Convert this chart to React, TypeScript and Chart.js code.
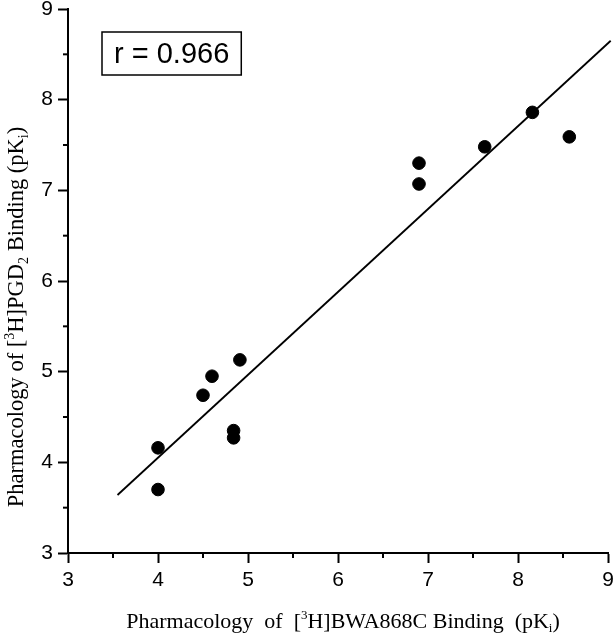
import { useEffect, useRef } from "react";
import { Chart, registerables } from "chart.js";

Chart.register(...registerables);

// ---- data ----
const bindingBWA868C = [4.0, 4.0, 4.5, 4.6, 4.84, 4.84, 4.91, 6.9, 6.9, 7.63, 8.16, 8.57];
const bindingPGD2 = [4.16, 3.7, 4.74, 4.95, 4.35, 4.27, 5.13, 7.3, 7.07, 7.48, 7.86, 7.59];
const fitLineX = [3.55, 9.03];
const fitLineY = [3.64, 8.65];
const axisMin = 3;
const axisMax = 9;
const minorTicks = [3.5, 4.5, 5.5, 6.5, 7.5, 8.5];
const correlationLabel = "r = 0.966";

type Seg = { t: string; mode?: "sup" | "sub" };
const xTitleParts: Seg[] = [
  { t: "Pharmacology  of  [" },
  { t: "3", mode: "sup" },
  { t: "H]BWA868C Binding  (pK" },
  { t: "i", mode: "sub" },
  { t: ")" },
];
const yTitleParts: Seg[] = [
  { t: "Pharmacology of [" },
  { t: "3", mode: "sup" },
  { t: "H]PGD" },
  { t: "2", mode: "sub" },
  { t: " Binding (pK" },
  { t: "i", mode: "sub" },
  { t: ")" },
];

const SERIF = '"Liberation Serif", "Times New Roman", serif';
const SANS = '"Liberation Sans", Arial, sans-serif';

function drawRich(ctx: CanvasRenderingContext2D, parts: Seg[], size: number) {
  const small = Math.round(size * 0.6);
  const fontFor = (s: Seg) => `${s.mode ? small : size}px ${SERIF}`;
  let total = 0;
  const widths = parts.map((p) => {
    ctx.font = fontFor(p);
    const w = ctx.measureText(p.t).width;
    total += w;
    return w;
  });
  let x = -total / 2;
  ctx.textBaseline = "alphabetic";
  ctx.textAlign = "left";
  parts.forEach((p, i) => {
    ctx.font = fontFor(p);
    const dy = p.mode === "sup" ? -size * 0.42 : p.mode === "sub" ? size * 0.2 : 0;
    ctx.fillText(p.t, x, dy);
    x += widths[i];
  });
}

const decorPlugin = {
  id: "decor",
  afterDraw(chart: any) {
    const ctx: CanvasRenderingContext2D = chart.ctx;
    const { chartArea } = chart;
    const xs = chart.scales.x;
    const ys = chart.scales.y;
    ctx.save();
    ctx.strokeStyle = "#000";
    ctx.fillStyle = "#000";
    ctx.lineWidth = 2;
    // minor ticks
    minorTicks.forEach((v) => {
      const px = xs.getPixelForValue(v);
      ctx.beginPath();
      ctx.moveTo(px, chartArea.bottom);
      ctx.lineTo(px, chartArea.bottom + 5);
      ctx.stroke();
      const py = ys.getPixelForValue(v);
      ctx.beginPath();
      ctx.moveTo(chartArea.left, py);
      ctx.lineTo(chartArea.left - 5, py);
      ctx.stroke();
    });
    // correlation box
    ctx.font = `29px ${SANS}`;
    const tw = ctx.measureText(correlationLabel).width;
    const bx = chartArea.left + 34;
    const by = chartArea.top + 23;
    const bw = tw + 24;
    const bh = 43;
    ctx.lineWidth = 1.5;
    ctx.strokeRect(bx, by, bw, bh);
    ctx.textAlign = "center";
    ctx.textBaseline = "middle";
    ctx.fillText(correlationLabel, bx + bw / 2, by + bh / 2 + 1);
    // x title
    ctx.save();
    ctx.translate((chartArea.left + chartArea.right) / 2 + 5, 628);
    drawRich(ctx, xTitleParts, 22);
    ctx.restore();
    // y title
    ctx.save();
    ctx.translate(23, (chartArea.top + chartArea.bottom) / 2 + 36);
    ctx.rotate(-Math.PI / 2);
    drawRich(ctx, yTitleParts, 22.5);
    ctx.restore();
    ctx.restore();
  },
};

export default function App() {
  const ref = useRef<HTMLCanvasElement | null>(null);
  useEffect(() => {
    if (!ref.current) return;
    const points = bindingBWA868C.map((x, i) => ({ x, y: bindingPGD2[i] }));
    const line = fitLineX.map((x, i) => ({ x, y: fitLineY[i] }));
    const axisCommon = {
      type: "linear" as const,
      min: axisMin,
      max: axisMax,
      border: { display: true, color: "#000", width: 2 },
      grid: {
        drawOnChartArea: false,
        drawTicks: true,
        tickLength: 10,
        tickColor: "#000",
        tickWidth: 2,
        color: "#000",
      },
      title: { display: false },
    };
    const chart = new Chart(ref.current, {
      type: "scatter",
      data: {
        datasets: [
          {
            type: "line",
            data: line,
            borderColor: "#000",
            borderWidth: 1.8,
            pointRadius: 0,
            fill: false,
            clip: false as any,
          },
          {
            type: "scatter",
            data: points,
            backgroundColor: "#000",
            borderColor: "#000",
            pointRadius: 6.3,
            pointHoverRadius: 6.3,
          },
        ],
      },
      options: {
        responsive: false,
        animation: false,
        devicePixelRatio: 1,
        layout: { padding: { left: 0, top: 9, right: 8, bottom: 0 } },
        plugins: {
          legend: { display: false },
          tooltip: { enabled: false },
          title: { display: false },
        },
        scales: {
          x: {
            ...axisCommon,
            position: "bottom",
            ticks: {
              stepSize: 1,
              color: "#000",
              padding: 5,
              font: { family: SANS, size: 21 },
              maxRotation: 0,
            },
            afterFit(scale: any) {
              scale.height = 87;
              scale.paddingLeft = 0;
              scale.paddingRight = 0;
            },
          },
          y: {
            ...axisCommon,
            position: "left",
            ticks: {
              stepSize: 1,
              color: "#000",
              padding: 5,
              font: { family: SANS, size: 21 },
            },
            afterFit(scale: any) {
              scale.width = 68;
              scale.paddingTop = 0;
              scale.paddingBottom = 0;
            },
          },
        },
      } as any,
      plugins: [decorPlugin],
    });
    return () => chart.destroy();
  }, []);
  return (
    <div style={{ position: "absolute", left: 0, top: 0, width: 616, height: 640, background: "#fff" }}>
      <canvas ref={ref} width={616} height={640} style={{ display: "block" }} />
    </div>
  );
}
